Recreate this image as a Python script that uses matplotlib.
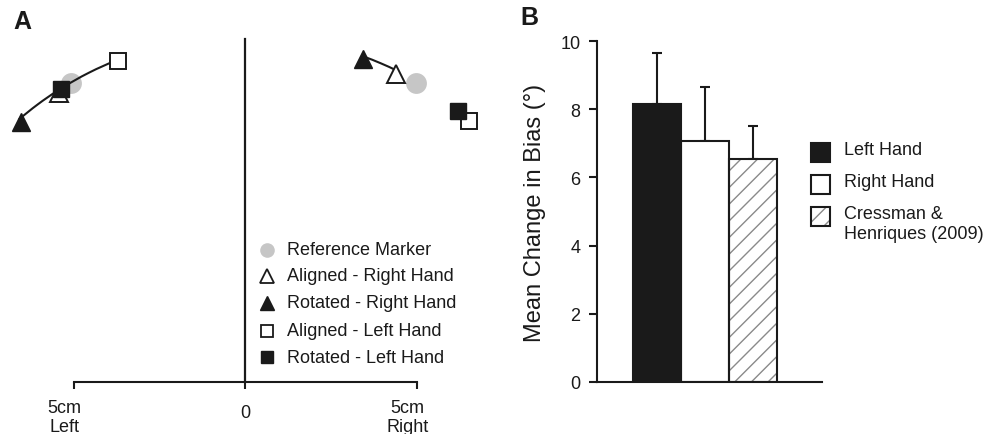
import numpy as np
import matplotlib.pyplot as plt
from matplotlib.patches import Arc, Rectangle
from matplotlib.lines import Line2D
from matplotlib.transforms import ScaledTranslation

plt.rcParams['font.family'] = ['Liberation Sans', 'DejaVu Sans']
plt.rcParams['hatch.linewidth'] = 1.0

INK = '#1a1a1a'
GREY = '#c6c6c6'
HATCH_GREY = '#8a8a8a'

### Panel A data (cm) ###
# reference marker positions, left and right target
ref_x = [-5.06, 4.99]
ref_y = [8.73, 8.73]
# aligned / rotated, right hand (triangles)
aligned_right_x = [-5.42, 4.41]
aligned_right_y = [8.43, 8.99]
rotated_right_x = [-6.54, 3.43]
rotated_right_y = [7.57, 9.41]
# aligned / rotated, left hand (squares)
aligned_left_x = [-3.69, 6.54]
aligned_left_y = [9.37, 7.60]
rotated_left_x = [-5.36, 6.20]
rotated_left_y = [8.54, 7.91]

legend_a_labels = ['Reference Marker', 'Aligned - Right Hand', 'Rotated - Right Hand',
                   'Aligned - Left Hand', 'Rotated - Left Hand']
xtick_a = [-5, 0, 5]
xtick_a_labels = ['5cm\nLeft', '0', '5cm\nRight']

### Panel B data ###
groups = ['Left Hand', 'Right Hand', 'Cressman &\nHenriques (2009)']
mean_bias = [8.17, 7.08, 6.53]
sem_bias = [1.50, 1.58, 0.99]

W, H = 988, 435
fig = plt.figure(figsize=(W / 100, H / 100), dpi=100)


def fpx(x, y):
    """pixel (from top-left) -> figure fraction"""
    return x / W, 1 - y / H


### Panel A ###
scale = 34.3  # px per cm
ax_a = fig.add_axes([5 / W, (H - 383) / H, 480 / W, 348 / H])
ax_a.set_xlim(-240 / scale, 240 / scale)
ax_a.set_ylim(0, 348 / scale)
for s in ['top', 'right', 'left']:
    ax_a.spines[s].set_visible(False)
ax_a.spines['bottom'].set_bounds(-5, 5)
ax_a.spines['bottom'].set_linewidth(1.5)
ax_a.spines['bottom'].set_color(INK)
ax_a.set_yticks([])
ax_a.set_xticks(xtick_a)
ax_a.set_xticklabels(xtick_a_labels, fontsize=13, color=INK)
ax_a.tick_params(axis='x', direction='out', length=5, width=1.5, color=INK, pad=7)
ax_a.axvline(0, ymin=0, ymax=10 / (348 / scale), color=INK, lw=1.6)
for lab, dx, dy in zip(ax_a.get_xticklabels(), [-9, 0, -9], [0, -5, 0]):
    lab.set_transform(lab.get_transform() + ScaledTranslation(dx / 100, dy / 100, fig.dpi_scale_trans))

ax_a.plot(ref_x, ref_y, 'o', color=GREY, ms=15, mec='none', zorder=2, clip_on=False)

# arcs joining aligned and rotated positions for each hand
r_arc = 10.1
pairs = [(aligned_right_x, aligned_right_y, rotated_right_x, rotated_right_y),
         (aligned_left_x, aligned_left_y, rotated_left_x, rotated_left_y)]
for ax_, ay_, rx_, ry_ in pairs:
    for i in range(2):
        t1 = np.degrees(np.arctan2(ay_[i], ax_[i]))
        t2 = np.degrees(np.arctan2(ry_[i], rx_[i]))
        ax_a.add_patch(Arc((0, 0), 2 * r_arc, 2 * r_arc, theta1=min(t1, t2), theta2=max(t1, t2),
                           color=INK, lw=1.5, zorder=3))

ax_a.plot(aligned_right_x, aligned_right_y, '^', ms=12.5, mfc='white', mec=INK, mew=1.4, zorder=4)
ax_a.plot(aligned_left_x, aligned_left_y, 's', ms=12, mfc='white', mec=INK, mew=1.4, zorder=4)
ax_a.plot(rotated_right_x, rotated_right_y, '^', ms=12.5, mfc=INK, mec=INK, mew=1.0, zorder=5,
          clip_on=False)
ax_a.plot(rotated_left_x, rotated_left_y, 's', ms=12, mfc=INK, mec=INK, mew=1.0, zorder=5)

# legend A
leg_styles = [dict(marker='o', ms=10.5, mfc=GREY, mec='none'),
              dict(marker='^', ms=10.5, mfc='white', mec=INK, mew=1.3),
              dict(marker='^', ms=10.5, mfc=INK, mec=INK, mew=1.0),
              dict(marker='s', ms=9, mfc='white', mec=INK, mew=1.3),
              dict(marker='s', ms=9, mfc=INK, mec=INK, mew=1.0)]
leg_rows = [250.7, 277, 304, 331.5, 358.3]
for lab, st, yy in zip(legend_a_labels, leg_styles, leg_rows):
    mx, my = fpx(266.5, yy)
    fig.add_artist(Line2D([mx], [my], transform=fig.transFigure, ls='none', **st))
    tx, ty = fpx(287, yy)
    fig.text(tx, ty, lab, fontsize=13, color=INK, va='center', ha='left')

fig.text(*fpx(13, 22), 'A', fontsize=18, fontweight='bold', color=INK, va='center', ha='left')

### Panel B ###
ax_b = fig.add_axes([597 / W, (H - 382.7) / H, 225 / W, 340.4 / H])
xpos = np.arange(len(groups))
faces = [INK, 'white', 'white']
hatches = [None, None, '//']
# fill + grey hatch first, then black outline on top
ax_b.bar(xpos, mean_bias, width=1.0, color=faces, edgecolor=HATCH_GREY, linewidth=0,
         hatch=hatches, zorder=2)
ax_b.bar(xpos, mean_bias, width=1.0, color='none', edgecolor=INK, linewidth=1.5, zorder=3)
ax_b.errorbar(xpos, mean_bias, yerr=[np.zeros(len(sem_bias)), sem_bias], fmt='none',
              ecolor=INK, elinewidth=1.5, capsize=3.5, capthick=1.5, zorder=1)
ax_b.set_xlim(-1.25, 3.44)
ax_b.set_ylim(0, 10)
ax_b.set_yticks(range(0, 11, 2))
ax_b.set_xticks([])
for s in ['top', 'right']:
    ax_b.spines[s].set_visible(False)
for s in ['left', 'bottom']:
    ax_b.spines[s].set_linewidth(1.5)
    ax_b.spines[s].set_color(INK)
ax_b.tick_params(axis='y', direction='out', length=6, width=1.5, color=INK, labelsize=13,
                 labelcolor=INK, pad=6)
ax_b.set_ylabel('Mean Change in Bias (°)', fontsize=17, color=INK, labelpad=10)

# legend B
leg_b_rows = [153, 185, 217]
for i, (lab, yy) in enumerate(zip(groups, leg_b_rows)):
    x0, y0 = fpx(810.5, yy + 9.5)
    fig.add_artist(Rectangle((x0, y0), 19 / W, 19 / H, transform=fig.transFigure,
                             facecolor=faces[i], edgecolor=HATCH_GREY, lw=0,
                             hatch=hatches[i]))
    fig.add_artist(Rectangle((x0, y0), 19 / W, 19 / H, transform=fig.transFigure,
                             facecolor='none', edgecolor=INK, lw=1.5))
    tx, ty = fpx(844, yy - 11)
    fig.text(tx, ty, lab, fontsize=13, color=INK, va='top', ha='left', linespacing=1.25)

fig.text(*fpx(520, 18), 'B', fontsize=18, fontweight='bold', color=INK, va='center', ha='left')

fig.savefig('out.png', dpi=100)
